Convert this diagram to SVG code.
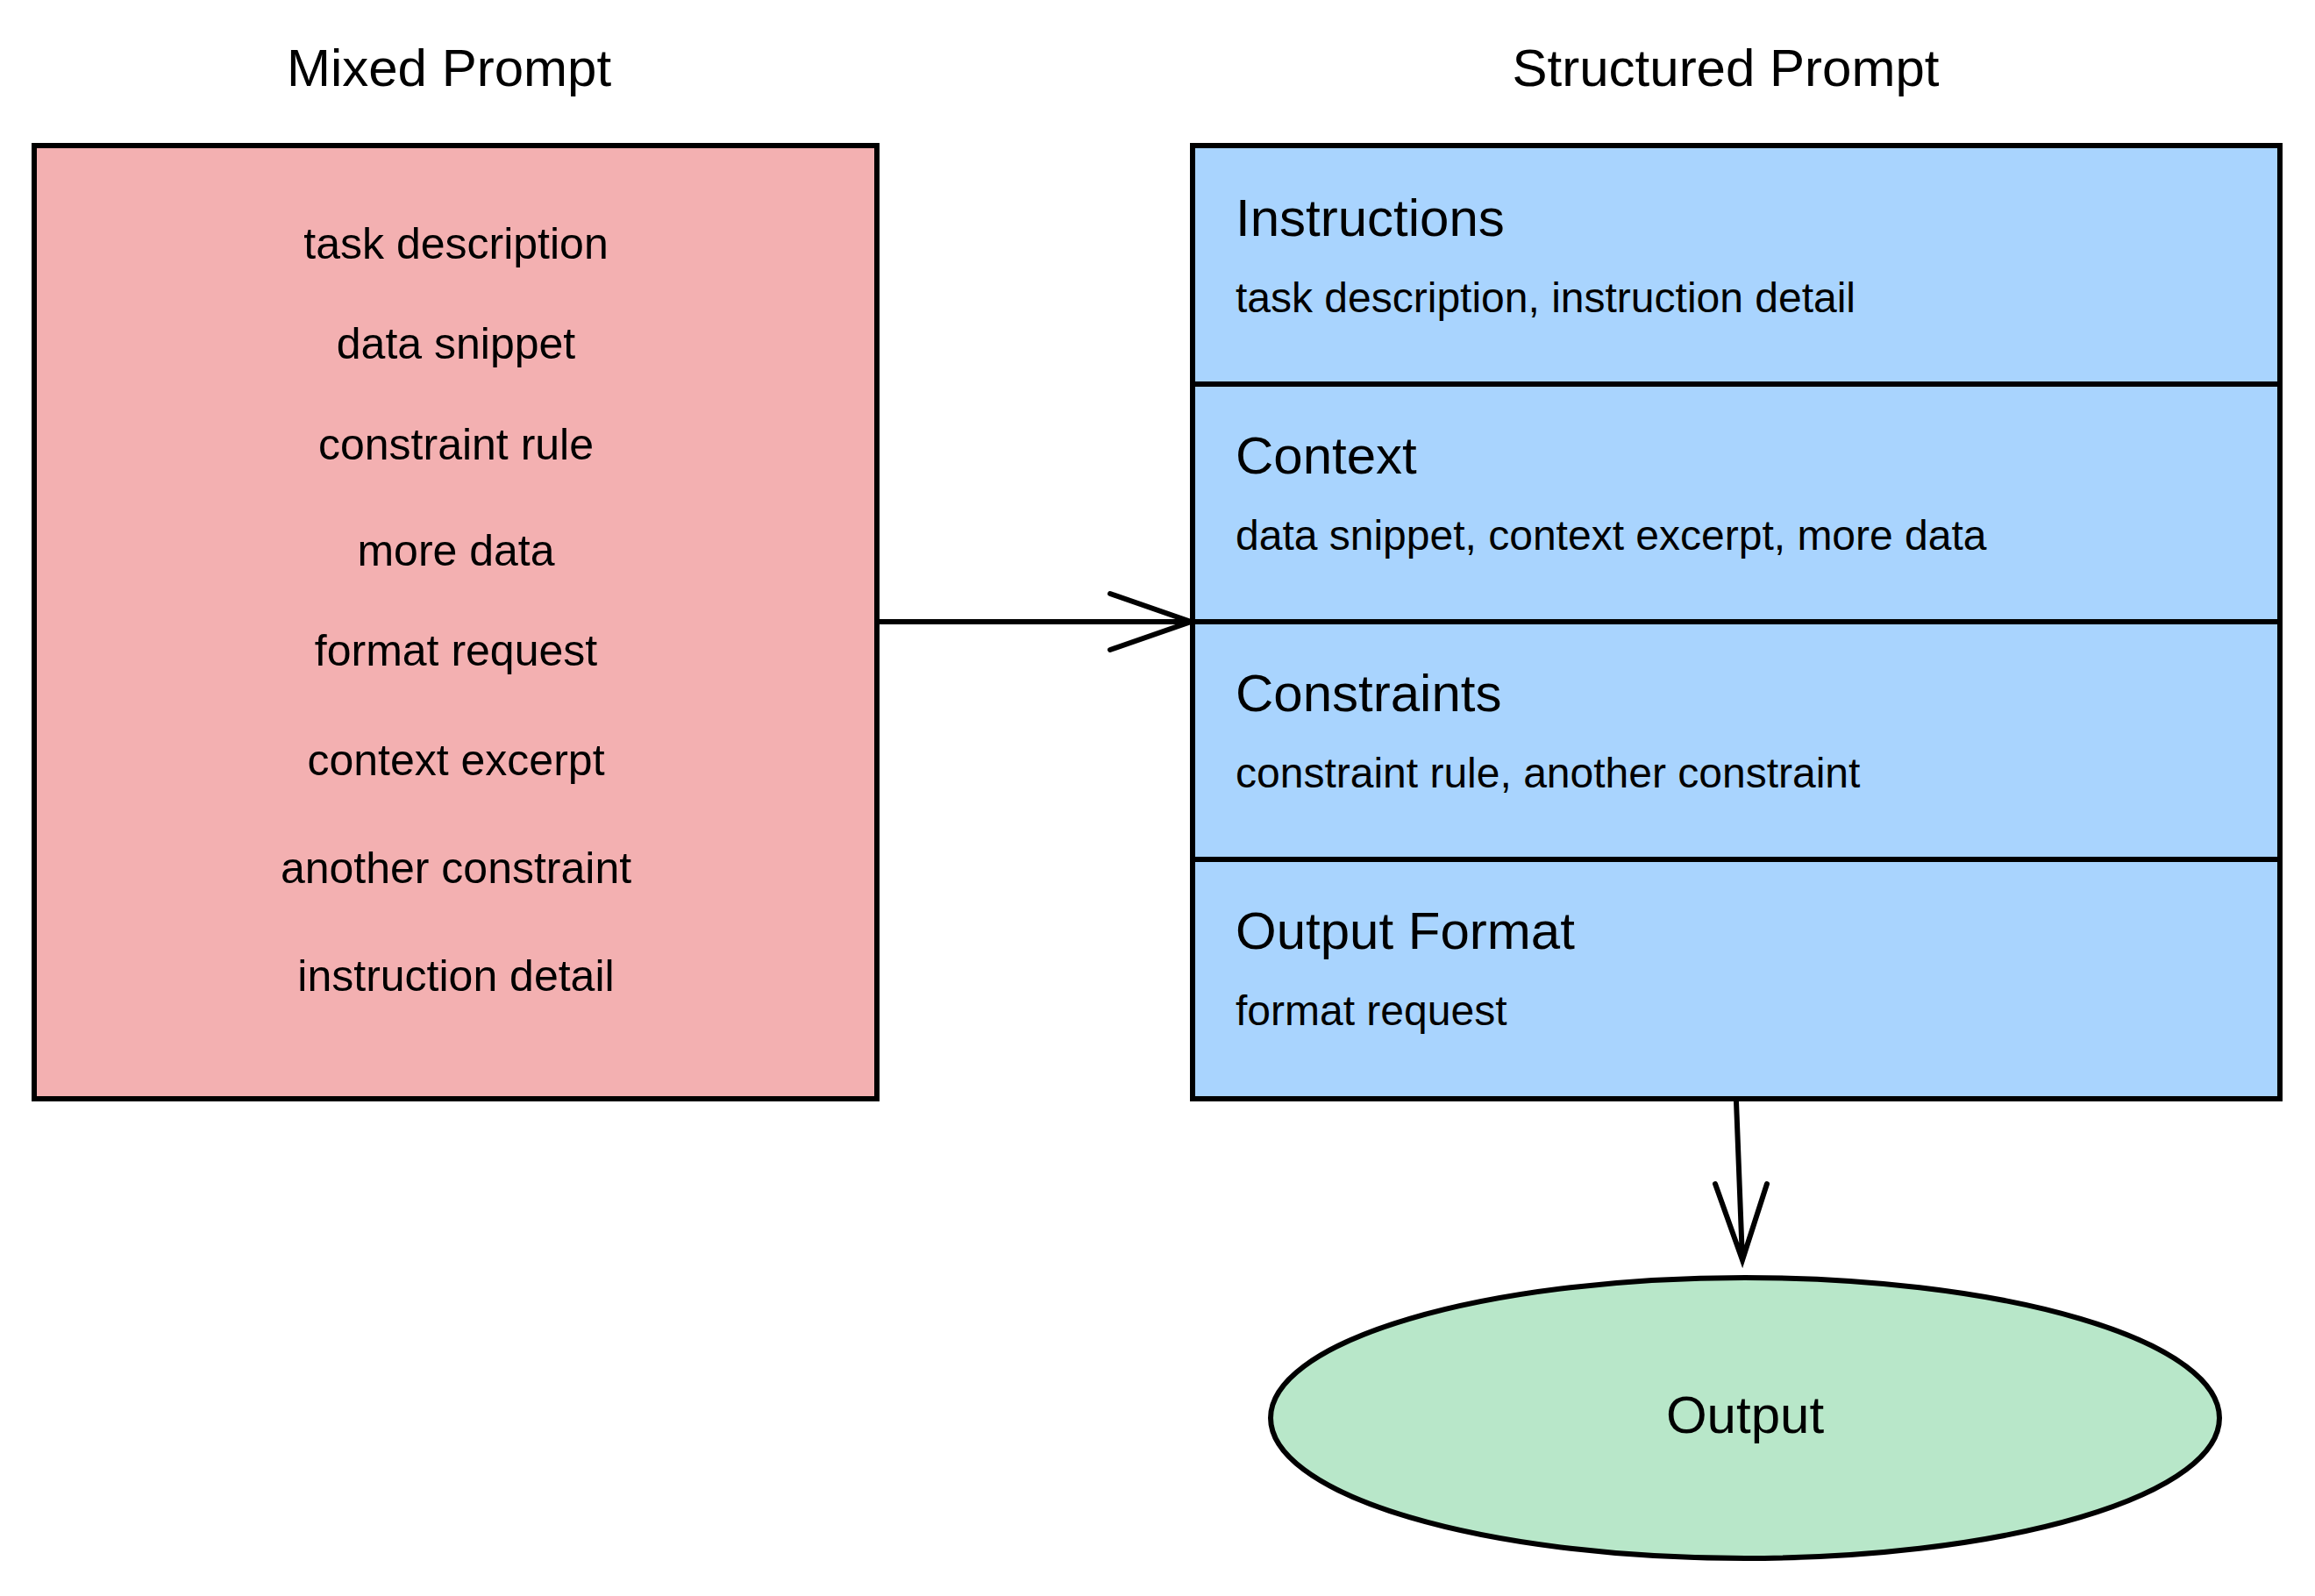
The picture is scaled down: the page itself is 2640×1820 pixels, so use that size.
<svg xmlns="http://www.w3.org/2000/svg" width="2640" height="1820" viewBox="0 0 2640 1820">
<style>
text{font-family:"Liberation Sans",Arial,sans-serif;fill:#000}
.t{font-size:60px;text-anchor:middle}
.i{font-size:50px;text-anchor:middle}
.h{font-size:60px}
.s{font-size:48px}
.b{stroke:#000;stroke-width:6}
.c{stroke:#000;stroke-width:6;fill:none;stroke-linecap:round}
</style>
<rect width="2640" height="1820" fill="#fff"/>
<g id="mixed">
<text class="t" x="512" y="98">Mixed Prompt</text>
<rect class="b" x="39" y="166" width="961" height="1087" fill="#f3b0b1"/>
<text class="i" x="520" y="295">task description</text>
<text class="i" x="520" y="409">data snippet</text>
<text class="i" x="520" y="524">constraint rule</text>
<text class="i" x="520" y="645">more data</text>
<text class="i" x="520" y="759">format request</text>
<text class="i" x="520" y="884">context excerpt</text>
<text class="i" x="520" y="1007">another constraint</text>
<text class="i" x="520" y="1130">instruction detail</text>
</g>
<g id="structured">
<text class="t" x="1968" y="98">Structured Prompt</text>
<rect class="b" x="1360" y="166" width="1240" height="1087" fill="#a9d4fe"/>
<line class="b" x1="1360" y1="438" x2="2600" y2="438"/>
<line class="b" x1="1360" y1="709" x2="2600" y2="709"/>
<line class="b" x1="1360" y1="980" x2="2600" y2="980"/>
<text class="h" x="1409" y="269">Instructions</text>
<text class="s" x="1409" y="356">task description, instruction detail</text>
<text class="h" x="1409" y="540">Context</text>
<text class="s" x="1409" y="627">data snippet, context excerpt, more data</text>
<text class="h" x="1409" y="811">Constraints</text>
<text class="s" x="1409" y="898">constraint rule, another constraint</text>
<text class="h" x="1409" y="1082">Output Format</text>
<text class="s" x="1409" y="1169">format request</text>
</g>
<g id="output">
<ellipse class="b" cx="1990" cy="1617" rx="541" ry="160" fill="#b8e7c9"/>
<text class="t" x="1990" y="1634">Output</text>
</g>
<g id="connectors">
<path class="c" d="M1000 709 H1358 M1266 677 L1358 709 L1266 741"/>
<path class="c" d="M1980 1256 L1987 1437 M1956 1350 L1987 1437 L2015 1350"/>
</g>
</svg>
